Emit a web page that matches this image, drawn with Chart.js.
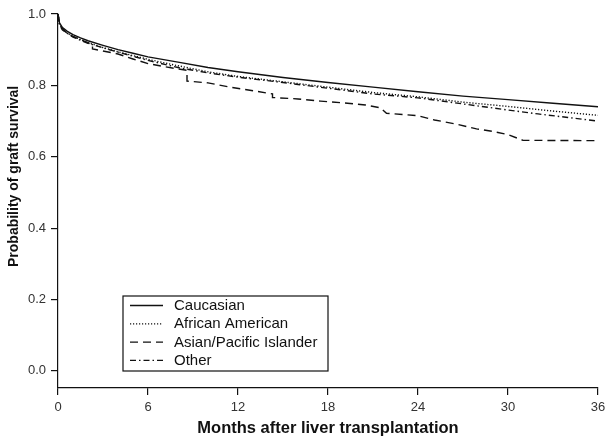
<!DOCTYPE html>
<html lang="en">
<head>
<meta charset="UTF-8">
<title>Graft survival by race</title>
<script src="https://cdn.jsdelivr.net/npm/chart.js"></script>
<style>
  html, body { margin: 0; padding: 0; background: #fff; }
  #wrap { width: 612px; height: 446px; }
</style>
</head>
<body>
<div id="wrap"><canvas id="survivalChart" width="612" height="446"></canvas></div>
<script>
// series labels
const seriesNames = ['Caucasian', 'African American', 'Asian/Pacific Islander', 'Other'];

// Kaplan-Meier estimates: [month, probability]
const caucasian = [
  [0, 1.0], [0.1, 0.975], [0.3, 0.962], [0.6, 0.952], [1, 0.942], [1.5, 0.933], [2, 0.925],
  [3, 0.912], [4, 0.9], [5, 0.89], [6, 0.88], [8, 0.865], [10, 0.85], [12, 0.838],
  [15, 0.822], [18, 0.808], [21, 0.795], [24, 0.782], [27, 0.77], [30, 0.76], [33, 0.75], [36, 0.74]
];
const africanAmerican = [
  [0, 1.0], [0.1, 0.972], [0.3, 0.957], [0.6, 0.947], [1, 0.937], [2, 0.92], [3, 0.906],
  [4, 0.894], [6, 0.873], [8, 0.855], [10, 0.838], [12, 0.825], [15, 0.81], [18, 0.795],
  [21, 0.78], [24, 0.768], [27, 0.753], [30, 0.741], [33, 0.728], [36, 0.716]
];
const asianPacific = [
  [0, 1.0], [0.1, 0.97], [0.5, 0.95], [1, 0.937], [2.3, 0.914], [2.3, 0.902], [4, 0.888],
  [5, 0.874], [6, 0.861], [7, 0.853], [8.6, 0.842], [8.6, 0.812], [10, 0.807], [11.5, 0.795],
  [13, 0.785], [14.3, 0.776], [14.3, 0.766], [16, 0.762], [17.5, 0.756], [19.3, 0.75],
  [20.5, 0.745], [21.5, 0.737], [21.9, 0.722], [24, 0.715], [25.1, 0.703], [26.5, 0.692],
  [27.9, 0.678], [29, 0.671], [30, 0.662], [31, 0.646], [36, 0.645]
];
const other = [
  [0, 1.0], [0.1, 0.97], [0.3, 0.955], [1, 0.935], [2, 0.918], [3, 0.905], [6, 0.87],
  [8, 0.85], [10, 0.835], [12, 0.823], [15, 0.808], [18, 0.792], [21, 0.776], [24, 0.765],
  [27, 0.748], [30, 0.731], [32, 0.72], [34, 0.71], [36, 0.7]
];

const xTicks = [0, 6, 12, 18, 24, 30, 36];
const yTicks = [0, 0.2, 0.4, 0.6, 0.8, 1.0];

const xTitle = 'Months after liver transplantation';
const yTitle = 'Probability of graft survival';

const allSeries = [caucasian, africanAmerican, asianPacific, other];
const dashes = [[], [1.2, 1.8], [8, 5], [6, 3, 1.5, 3]];

const fontFamily = '"Liberation Sans", Arial, Helvetica, sans-serif';

// legend drawn inside the plot, bottom-left, with boxed border
const boxLegend = {
  id: 'boxLegend',
  afterDraw(chart) {
    const ctx = chart.ctx;
    const area = chart.chartArea;
    const left = area.left + 65;
    const top = area.top + 282;
    const w = 205, h = 75;
    ctx.save();
    ctx.strokeStyle = '#111';
    ctx.lineWidth = 1.2;
    ctx.strokeRect(left, top, w, h);
    ctx.font = '15px ' + fontFamily;
    ctx.fillStyle = '#111';
    ctx.textBaseline = 'middle';
    chart.data.datasets.forEach((ds, i) => {
      const y = top + 9.5 + i * 18.3;
      ctx.beginPath();
      ctx.setLineDash(ds.borderDash || []);
      ctx.lineWidth = 1.3;
      ctx.moveTo(left + 7, y);
      ctx.lineTo(left + 40, y);
      ctx.stroke();
      ctx.setLineDash([]);
      ctx.fillText(ds.label, left + 51, y + 0.5);
    });
    ctx.restore();
  }
};

// y-axis title sits a bit above the plot centre in the original
const yTitlePlugin = {
  id: 'yTitlePlugin',
  afterDraw(chart) {
    const ctx = chart.ctx;
    const yScale = chart.scales.y;
    ctx.save();
    ctx.translate(14, yScale.getPixelForValue(0.545));
    ctx.rotate(-Math.PI / 2);
    ctx.font = 'bold 14px ' + fontFamily;
    ctx.fillStyle = '#111';
    ctx.textAlign = 'center';
    ctx.textBaseline = 'middle';
    ctx.fillText(yTitle, 0, 0);
    ctx.restore();
  }
};

const ctx = document.getElementById('survivalChart').getContext('2d');
new Chart(ctx, {
  type: 'scatter',
  data: {
    datasets: allSeries.map((s, i) => ({
      label: seriesNames[i],
      data: s.map(p => ({ x: p[0], y: p[1] })),
      showLine: true,
      borderColor: '#111',
      borderWidth: 1.4,
      borderDash: dashes[i],
      pointRadius: 0,
      tension: 0,
      fill: false
    }))
  },
  options: {
    responsive: false,
    animation: false,
    layout: { padding: { top: 14, right: 14, left: 0, bottom: 0 } },
    plugins: {
      legend: { display: false },
      tooltip: { enabled: false }
    },
    scales: {
      x: {
        type: 'linear',
        min: 0,
        max: 36,
        afterBuildTicks: axis => { axis.ticks = xTicks.map(v => ({ value: v })); },
        afterFit: axis => { axis.height = 58; },
        grid: { display: true, drawOnChartArea: false, drawTicks: true, tickLength: 7, color: '#111', lineWidth: 1.2 },
        border: { display: true, color: '#111', width: 1.2 },
        ticks: { color: '#333', font: { family: fontFamily, size: 13 }, padding: 5, maxRotation: 0 },
        title: { display: true, text: xTitle, color: '#111',
                 font: { family: fontFamily, size: 16.5, weight: 'bold' }, padding: { top: 4, bottom: 8 } }
      },
      y: {
        min: -0.048,
        max: 1.0,
        afterBuildTicks: axis => { axis.ticks = yTicks.map(v => ({ value: v })); },
        afterFit: axis => { axis.width = 58; },
        grid: { display: true, drawOnChartArea: false, drawTicks: true, tickLength: 7, color: '#111', lineWidth: 1.2 },
        border: { display: true, color: '#111', width: 1.2 },
        ticks: { color: '#333', font: { family: fontFamily, size: 13 }, padding: 5,
                 callback: v => v.toFixed(1) },
        title: { display: false }
      }
    }
  },
  plugins: [boxLegend, yTitlePlugin]
});
</script>
</body>
</html>
